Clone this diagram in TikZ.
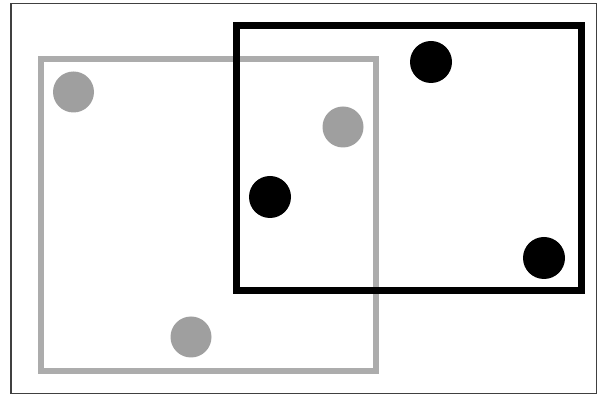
\documentclass[tikz,border=0pt]{standalone}
\begin{document}
\begin{tikzpicture}[x=1pt,y=-1pt,
  graydot/.style={circle,fill=gray!75,inner sep=0pt,minimum size=41pt},
  blackdot/.style={circle,fill=black,inner sep=0pt,minimum size=42pt}]
\useasboundingbox (0,0) rectangle (598,395);
\fill[white] (0,0) rectangle (598,395);
\draw[line width=1.6pt,black!75] (11,3.5) rectangle (596.5,393.5);
\draw[line width=6pt,gray!65] (41,59) rectangle (376,371);
\draw[line width=7pt,black] (236,26) rectangle (581,291);
\node[graydot] (g1) at (73.5,92) {};
\node[graydot] (g2) at (343,127) {};
\node[graydot] (g3) at (191,337) {};
\node[blackdot] (b1) at (431,62) {};
\node[blackdot] (b2) at (270,197) {};
\node[blackdot] (b3) at (544,258) {};
\end{tikzpicture}
\end{document}
